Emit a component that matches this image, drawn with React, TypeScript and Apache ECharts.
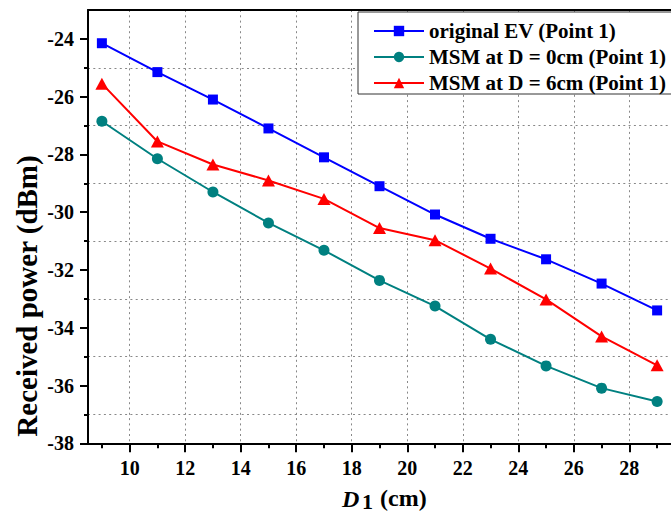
import React, { useEffect, useRef } from "react";
import * as echarts from "echarts";

const xValues = [9, 11, 13, 15, 17, 19, 21, 23, 25, 27, 29];
const originalEV = [-24.15, -25.15, -26.1, -27.1, -28.1, -29.1, -30.08, -30.92, -31.63, -32.47, -33.4];
const msmD0 = [-26.85, -28.15, -29.3, -30.37, -31.32, -32.36, -33.25, -34.4, -35.32, -36.09, -36.55];
const msmD6 = [-25.55, -27.55, -28.35, -28.9, -29.54, -30.55, -30.97, -31.95, -33.02, -34.3, -35.3];

const seriesNames = ["original EV (Point 1)", "MSM at D = 0cm (Point 1)", "MSM at D = 6cm (Point 1)"];

const xMajorTicks = [10, 12, 14, 16, 18, 20, 22, 24, 26, 28];
const xMinorTicks = [9, 11, 13, 15, 17, 19, 21, 23, 25, 27, 29];
const yMajorTicks = [-38, -36, -34, -32, -30, -28, -26, -24];
const yMinorTicks = [-37, -35, -33, -31, -29, -27, -25];

const X_MIN = 8.5;
const X_MAX = 29.5;
const Y_MIN = -38;
const Y_MAX = -23;

const FAMILY = "Liberation Serif";

export default function App() {
  const ref = useRef<HTMLDivElement>(null);

  useEffect(() => {
    if (!ref.current) return;
    const chart = echarts.init(ref.current, undefined, { renderer: "svg" });
    const gridBox = { left: 88, top: 10, right: -11.5, bottom: 68.7 };
    const dotted = { color: "#888", width: 1, type: [2, 3.3] as any };
    const toPairs = (arr: number[]) => xValues.map((x, i) => [x, arr[i]]);
    const labelText = {
      color: "#000",
      fontFamily: FAMILY,
      fontWeight: "bold",
      fontSize: 20,
    };

    const option: any = {
      animation: false,
      backgroundColor: "#fff",
      textStyle: { fontFamily: FAMILY, fontWeight: "bold", color: "#000" },
      grid: [{ ...gridBox }, { ...gridBox }],
      xAxis: [
        {
          type: "value",
          gridIndex: 0,
          min: X_MIN,
          max: X_MAX,
          position: "bottom",
          axisLine: { show: true, onZero: false, lineStyle: { color: "#000", width: 2 } },
          axisTick: { show: true, length: 9, customValues: xMajorTicks, lineStyle: { color: "#000", width: 2 } },
          axisLabel: { customValues: xMajorTicks, margin: 15, ...labelText },
          splitLine: { show: true, lineStyle: dotted },
        },
        {
          type: "value",
          gridIndex: 1,
          min: X_MIN,
          max: X_MAX,
          position: "bottom",
          axisLine: { show: false, onZero: false },
          axisTick: { show: true, length: 5, customValues: xMinorTicks, lineStyle: { color: "#000", width: 2 } },
          axisLabel: { show: false },
          splitLine: { show: false },
        },
        {
          type: "value",
          gridIndex: 0,
          min: X_MIN,
          max: X_MAX,
          position: "top",
          axisLine: { show: true, onZero: false, lineStyle: { color: "#000", width: 2 } },
          axisTick: { show: false },
          axisLabel: { show: false },
          splitLine: { show: false },
        },
      ],
      yAxis: [
        {
          type: "value",
          gridIndex: 0,
          min: Y_MIN,
          max: Y_MAX,
          position: "left",
          axisLine: { show: true, onZero: false, lineStyle: { color: "#000", width: 2 } },
          axisTick: { show: true, length: 8, customValues: yMajorTicks, lineStyle: { color: "#000", width: 2 } },
          axisLabel: { customValues: yMajorTicks, margin: 14, ...labelText },
          splitLine: { show: false },
        },
        {
          type: "value",
          gridIndex: 1,
          min: Y_MIN,
          max: Y_MAX,
          position: "left",
          axisLine: { show: false, onZero: false },
          axisTick: { show: true, length: 4, customValues: yMinorTicks, lineStyle: { color: "#000", width: 2 } },
          axisLabel: { show: false },
          splitLine: { show: true, lineStyle: dotted },
        },
      ],
      legend: {
        left: 358,
        top: 12,
        orient: "vertical",
        data: seriesNames,
        backgroundColor: "#fff",
        borderColor: "#333",
        borderWidth: 1,
        padding: [8, 10, 0, 15],
        itemWidth: 50,
        itemHeight: 13,
        itemGap: 4,
        textStyle: {
          color: "#000",
          fontFamily: FAMILY,
          fontWeight: "bold",
          fontSize: 21,
          lineHeight: 22,
        },
      },
      graphic: [
        {
          type: "text",
          x: 27,
          y: 296,
          rotation: Math.PI / 2,
          style: {
            text: "Received power (dBm)",
            fill: "#000",
            fontFamily: FAMILY,
            fontWeight: "bold",
            fontSize: 29,
            textAlign: "center",
            textVerticalAlign: "middle",
          },
        },
        {
          type: "text",
          x: 342,
          y: 499,
          style: {
            text: "D",
            fill: "#000",
            fontFamily: FAMILY,
            fontWeight: "bold",
            fontStyle: "italic",
            fontSize: 24,
            textAlign: "left",
            textVerticalAlign: "middle",
          },
        },
        {
          type: "text",
          x: 362,
          y: 501,
          style: {
            text: "1",
            fill: "#000",
            fontFamily: FAMILY,
            fontWeight: "bold",
            fontSize: 22,
            textAlign: "left",
            textVerticalAlign: "middle",
          },
        },
        {
          type: "text",
          x: 380,
          y: 498,
          style: {
            text: "(cm)",
            fill: "#000",
            fontFamily: FAMILY,
            fontWeight: "bold",
            fontSize: 24,
            textAlign: "left",
            textVerticalAlign: "middle",
          },
        },
      ],
      series: [
        {
          name: seriesNames[0],
          type: "line",
          xAxisIndex: 0,
          yAxisIndex: 0,
          data: toPairs(originalEV),
          symbol: "rect",
          symbolSize: 10,
          color: "#0000ff",
          lineStyle: { width: 2, color: "#0000ff" },
          itemStyle: { color: "#0000ff" },
          z: 4,
        },
        {
          name: seriesNames[1],
          type: "line",
          xAxisIndex: 0,
          yAxisIndex: 0,
          data: toPairs(msmD0),
          symbol: "circle",
          symbolSize: 11,
          color: "#008080",
          lineStyle: { width: 2, color: "#008080" },
          itemStyle: { color: "#008080" },
          z: 3,
        },
        {
          name: seriesNames[2],
          type: "line",
          xAxisIndex: 0,
          yAxisIndex: 0,
          data: toPairs(msmD6),
          symbol: "triangle",
          symbolSize: [13, 12],
          color: "#ff0000",
          lineStyle: { width: 2, color: "#ff0000" },
          itemStyle: { color: "#ff0000" },
          z: 3,
        },
      ],
    };

    chart.setOption(option);
    return () => {
      chart.dispose();
    };
  }, []);

  return (
    <div
      ref={ref}
      style={{ position: "fixed", left: 0, top: 0, width: 671, height: 512, background: "#fff" }}
    />
  );
}
